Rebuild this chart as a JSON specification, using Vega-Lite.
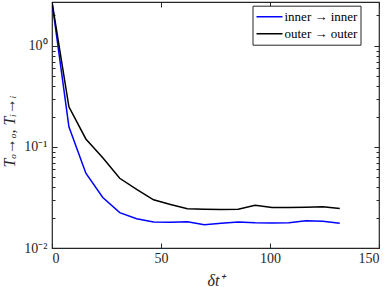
{
 "$schema": "https://vega.github.io/schema/vega-lite/v6.json",
 "width": 327, "height": 246,
 "autosize": "none",
 "padding": {"left": 52, "top": 2, "right": 11, "bottom": 39},
 "background": "white",
 "config": {
   "view": {"stroke": "#262626", "strokeWidth": 1.2},
   "font": "Times New Roman, Liberation Serif, serif",
   "axis": {"domain": false, "grid": false, "tickColor": "#262626", "labelColor": "#262626", "titleColor": "#262626", "labelFont": "Times New Roman, Liberation Serif, serif", "titleFont": "Times New Roman, Liberation Serif, serif", "labelFontSize": 14, "titleFontSize": 16, "titleFontWeight": "normal", "tickWidth": 1}
 },
 "data": {"values": [
  {"x": 0, "v": 2.72, "s": "inner → inner"},
  {"x": 7.76, "v": 0.158, "s": "inner → inner"},
  {"x": 15.53, "v": 0.055, "s": "inner → inner"},
  {"x": 23.29, "v": 0.0316, "s": "inner → inner"},
  {"x": 31.06, "v": 0.0224, "s": "inner → inner"},
  {"x": 38.82, "v": 0.0195, "s": "inner → inner"},
  {"x": 46.59, "v": 0.0181, "s": "inner → inner"},
  {"x": 54.35, "v": 0.018, "s": "inner → inner"},
  {"x": 62.12, "v": 0.0182, "s": "inner → inner"},
  {"x": 69.88, "v": 0.017, "s": "inner → inner"},
  {"x": 77.65, "v": 0.0176, "s": "inner → inner"},
  {"x": 85.41, "v": 0.0181, "s": "inner → inner"},
  {"x": 93.18, "v": 0.0178, "s": "inner → inner"},
  {"x": 100.94, "v": 0.0177, "s": "inner → inner"},
  {"x": 108.71, "v": 0.0178, "s": "inner → inner"},
  {"x": 116.47, "v": 0.0186, "s": "inner → inner"},
  {"x": 124.24, "v": 0.0184, "s": "inner → inner"},
  {"x": 132, "v": 0.0176, "s": "inner → inner"},
  {"x": 0, "v": 2.72, "s": "outer → outer"},
  {"x": 7.76, "v": 0.25, "s": "outer → outer"},
  {"x": 15.53, "v": 0.12, "s": "outer → outer"},
  {"x": 23.29, "v": 0.078, "s": "outer → outer"},
  {"x": 31.06, "v": 0.049, "s": "outer → outer"},
  {"x": 38.82, "v": 0.038, "s": "outer → outer"},
  {"x": 46.59, "v": 0.030, "s": "outer → outer"},
  {"x": 54.35, "v": 0.027, "s": "outer → outer"},
  {"x": 62.12, "v": 0.0245, "s": "outer → outer"},
  {"x": 69.88, "v": 0.0242, "s": "outer → outer"},
  {"x": 77.65, "v": 0.0241, "s": "outer → outer"},
  {"x": 85.41, "v": 0.0242, "s": "outer → outer"},
  {"x": 93.18, "v": 0.0265, "s": "outer → outer"},
  {"x": 100.94, "v": 0.0251, "s": "outer → outer"},
  {"x": 108.71, "v": 0.0252, "s": "outer → outer"},
  {"x": 116.47, "v": 0.0253, "s": "outer → outer"},
  {"x": 124.24, "v": 0.0256, "s": "outer → outer"},
  {"x": 132, "v": 0.0246, "s": "outer → outer"}
 ]},
 "layer": [
  {
   "mark": {"type": "line", "strokeWidth": 1.5, "clip": true},
   "encoding": {
    "x": {"field": "x", "type": "quantitative", "scale": {"domain": [0, 150], "nice": false},
          "axis": {"orient": "bottom", "values": [0, 50, 100, 150], "tickSize": -5, "labelPadding": 8, "title": "δt⁺", "titleFontStyle": "italic", "titlePadding": 7}},
    "y": {"field": "v", "type": "quantitative", "scale": {"type": "log", "domain": [0.01, 2.72], "nice": false},
          "axis": {"orient": "left", "values": [0.01, 0.1, 1], "tickSize": -5, "labelPadding": 10,
                   "labelExpr": "datum.value < 0.05 ? '10⁻²' : datum.value < 0.5 ? '10⁻¹' : '10⁰'",
                   "title": "Tₒ→ₒ,  Tᵢ→ᵢ", "titleFontStyle": "italic", "titlePadding": 6, "titleY": 129}},
    "color": {"field": "s", "type": "nominal",
              "scale": {"domain": ["inner → inner", "outer → outer"], "range": ["#0000ff", "#000000"]},
              "legend": {"title": null, "orient": "none", "legendX": 200.5, "legendY": 3.7, "strokeColor": "#262626", "fillColor": "white", "padding": 3, "symbolType": "stroke", "symbolSize": 676, "symbolStrokeWidth": 1.5, "labelFontSize": 13, "labelFont": "Times New Roman, Liberation Serif, serif", "labelColor": "black", "labelOffset": 1, "clipHeight": 16, "rowPadding": 1}}
   }
  },
  {
   "mark": {"type": "line", "strokeOpacity": 0},
   "encoding": {
    "x": {"field": "x", "type": "quantitative", "scale": {"domain": [0, 150], "nice": false},
          "axis": {"orient": "top", "values": [0, 50, 100, 150], "labels": false, "tickSize": -5, "title": null}},
    "y": {"field": "v", "type": "quantitative", "scale": {"type": "log", "domain": [0.01, 2.72], "nice": false},
          "axis": {"orient": "right", "values": [0.01, 0.1, 1], "labels": false, "tickSize": -5, "title": null}}
   }
  },
  {
   "mark": {"type": "line", "strokeOpacity": 0},
   "encoding": {
    "x": {"field": "x", "type": "quantitative", "scale": {"domain": [0, 150], "nice": false}, "axis": null},
    "y": {"field": "v", "type": "quantitative", "scale": {"type": "log", "domain": [0.01, 2.72], "nice": false},
          "axis": {"orient": "left", "values": [0.02, 0.03, 0.04, 0.05, 0.06, 0.07, 0.08, 0.09, 0.2, 0.3, 0.4, 0.5, 0.6, 0.7, 0.8, 0.9, 2], "labels": false, "tickSize": -3, "title": null}}
   }
  },
  {
   "mark": {"type": "line", "strokeOpacity": 0},
   "encoding": {
    "x": {"field": "x", "type": "quantitative", "scale": {"domain": [0, 150], "nice": false}, "axis": null},
    "y": {"field": "v", "type": "quantitative", "scale": {"type": "log", "domain": [0.01, 2.72], "nice": false},
          "axis": {"orient": "right", "values": [0.02, 0.03, 0.04, 0.05, 0.06, 0.07, 0.08, 0.09, 0.2, 0.3, 0.4, 0.5, 0.6, 0.7, 0.8, 0.9, 2], "labels": false, "tickSize": -3, "title": null}}
   }
  }
 ],
 "resolve": {"axis": {"x": "independent", "y": "independent"}}
}
